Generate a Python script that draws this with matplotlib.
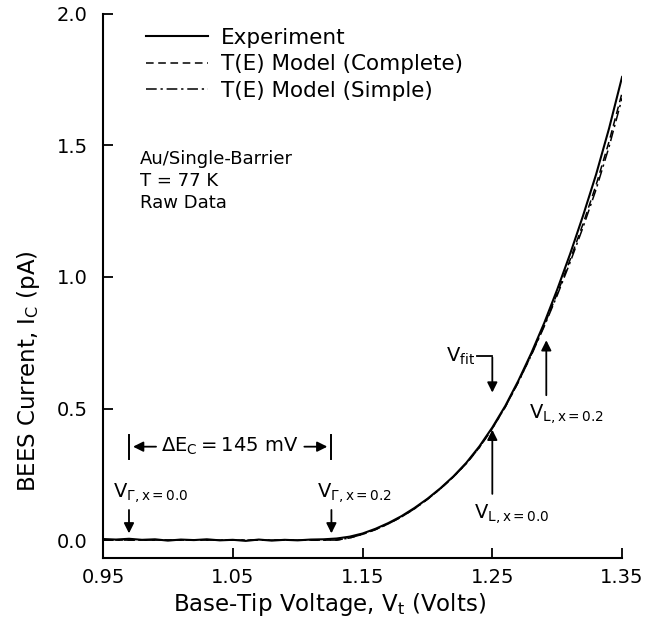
import matplotlib
matplotlib.use('Agg')
import matplotlib.pyplot as plt
import numpy as np

plt.rcParams['font.family'] = ['DejaVu Sans']
plt.rcParams['mathtext.default'] = 'regular'

# experiment (V in volts, I in pA)
v_exp = [0.95, 0.96, 0.97, 0.98, 0.99, 1.00, 1.01, 1.02, 1.03, 1.04,
         1.05, 1.06, 1.07, 1.08, 1.09, 1.10, 1.11, 1.12, 1.13, 1.14,
         1.15, 1.16, 1.17, 1.18, 1.19, 1.20, 1.21, 1.22, 1.23, 1.24,
         1.25, 1.26, 1.27, 1.28, 1.29, 1.30, 1.31, 1.32, 1.33, 1.34, 1.35]
i_exp = [0.004, 0.002, 0.005, 0.001, 0.003, -0.002, 0.002, 0.000, 0.003, -0.001,
         0.001, -0.003, 0.002, -0.002, 0.001, -0.001, 0.002, 0.003, 0.006, 0.013,
         0.025, 0.043, 0.065, 0.091, 0.122, 0.157, 0.197, 0.242, 0.294, 0.356,
         0.428, 0.51, 0.605, 0.71, 0.825, 0.952, 1.088, 1.234, 1.39, 1.565, 1.76]

# T(E) models
v_mod = [0.95, 1.13, 1.14, 1.15, 1.16, 1.17, 1.18, 1.19, 1.20, 1.21, 1.22, 1.23,
         1.24, 1.25, 1.26, 1.27, 1.28, 1.29, 1.30, 1.31, 1.32, 1.33, 1.34, 1.35]
i_complete = [0.0, 0.0, 0.008, 0.022, 0.040, 0.062, 0.088, 0.119, 0.155, 0.195, 0.240, 0.291,
              0.352, 0.424, 0.506, 0.600, 0.704, 0.816, 0.937, 1.066, 1.203, 1.35, 1.515, 1.70]
i_simple = [0.0, 0.0, 0.008, 0.022, 0.040, 0.062, 0.088, 0.119, 0.155, 0.195, 0.240, 0.291,
            0.352, 0.424, 0.506, 0.600, 0.702, 0.812, 0.930, 1.056, 1.19, 1.333, 1.495, 1.68]

fig = plt.figure(figsize=(6.48, 6.28), dpi=100)
ax = fig.add_axes([0.159, 0.1115, 0.801, 0.8665])

ax.plot(v_exp, i_exp, 'k-', lw=1.5, label='Experiment')
ax.plot(v_mod, i_complete, 'k--', lw=1.1, dashes=(5, 3), label='T(E) Model (Complete)')
ax.plot(v_mod, i_simple, 'k-.', lw=1.1, dashes=(7, 2.5, 1.5, 2.5), label='T(E) Model (Simple)')

ax.set_xlim(0.95, 1.35)
ax.set_ylim(-0.068, 2.0)
ax.set_xticks([0.95, 1.05, 1.15, 1.25, 1.35])
ax.set_xticklabels(['0.95', '1.05', '1.15', '1.25', '1.35'])
ax.set_yticks([0.0, 0.5, 1.0, 1.5, 2.0])
ax.set_yticklabels(['0.0', '0.5', '1.0', '1.5', '2.0'])
ax.spines['top'].set_visible(False)
ax.spines['right'].set_visible(False)
ax.spines['left'].set_linewidth(1.5)
ax.spines['bottom'].set_linewidth(1.5)
ax.tick_params(direction='in', length=7, width=1.3, labelsize=14)
ax.tick_params(axis='y', pad=11)
ax.tick_params(axis='x', pad=7)

ax.set_xlabel('Base-Tip Voltage, $V_t$ (Volts)', fontsize=16.5, labelpad=3)
ax.set_ylabel('BEES Current, $I_C$ (pA)', fontsize=16.5, labelpad=8)
ax.xaxis.set_label_coords(0.437, -0.06)
ax.yaxis.set_label_coords(-0.118, 0.344)

ax.legend(loc='upper left', bbox_to_anchor=(0.045, 1.01), frameon=False, fontsize=15.5,
          handlelength=2.9, handletextpad=0.6, labelspacing=0.3)

ax.text(0.9785, 1.483, 'Au/Single-Barrier\nT = 77 K\nRaw Data', fontsize=13,
        va='top', ha='left', linespacing=1.3)

arr = dict(arrowstyle='-|>', color='k', lw=1.3, mutation_scale=15)

# V_Gamma arrows
ax.annotate('', xy=(0.970, 0.015), xytext=(0.970, 0.125), arrowprops=arr)
ax.text(0.958, 0.135, r'$V_{\Gamma, x=0.0}$', fontsize=14, va='bottom', ha='left')
ax.annotate('', xy=(1.126, 0.015), xytext=(1.126, 0.125), arrowprops=arr)
ax.text(1.115, 0.135, r'$V_{\Gamma, x=0.2}$', fontsize=14, va='bottom', ha='left')

# Delta Ec bracket
ax.plot([0.970, 0.970], [0.31, 0.40], 'k-', lw=1.4)
ax.plot([1.126, 1.126], [0.31, 0.40], 'k-', lw=1.4)
ax.annotate('', xy=(0.971, 0.355), xytext=(0.993, 0.355), arrowprops=arr)
ax.annotate('', xy=(1.125, 0.355), xytext=(1.103, 0.355), arrowprops=arr)
ax.text(1.048, 0.355, r'$\Delta E_C = 145$ mV', fontsize=14, va='center', ha='center')

# V_fit elbow arrow
ax.plot([1.2385, 1.25], [0.70, 0.70], 'k-', lw=1.3)
ax.annotate('', xy=(1.25, 0.55), xytext=(1.25, 0.705), arrowprops=arr)
ax.text(1.2365, 0.70, r'$V_{fit}$', fontsize=14, va='center', ha='right')

# V_L arrows
ax.annotate('', xy=(1.25, 0.43), xytext=(1.25, 0.165), arrowprops=arr)
ax.text(1.236, 0.145, r'$V_{L, x=0.0}$', fontsize=14, va='top', ha='left')
ax.annotate('', xy=(1.2916, 0.77), xytext=(1.2916, 0.54), arrowprops=arr)
ax.text(1.278, 0.525, r'$V_{L, x=0.2}$', fontsize=14, va='top', ha='left')

fig.savefig('out.png', dpi=100)
